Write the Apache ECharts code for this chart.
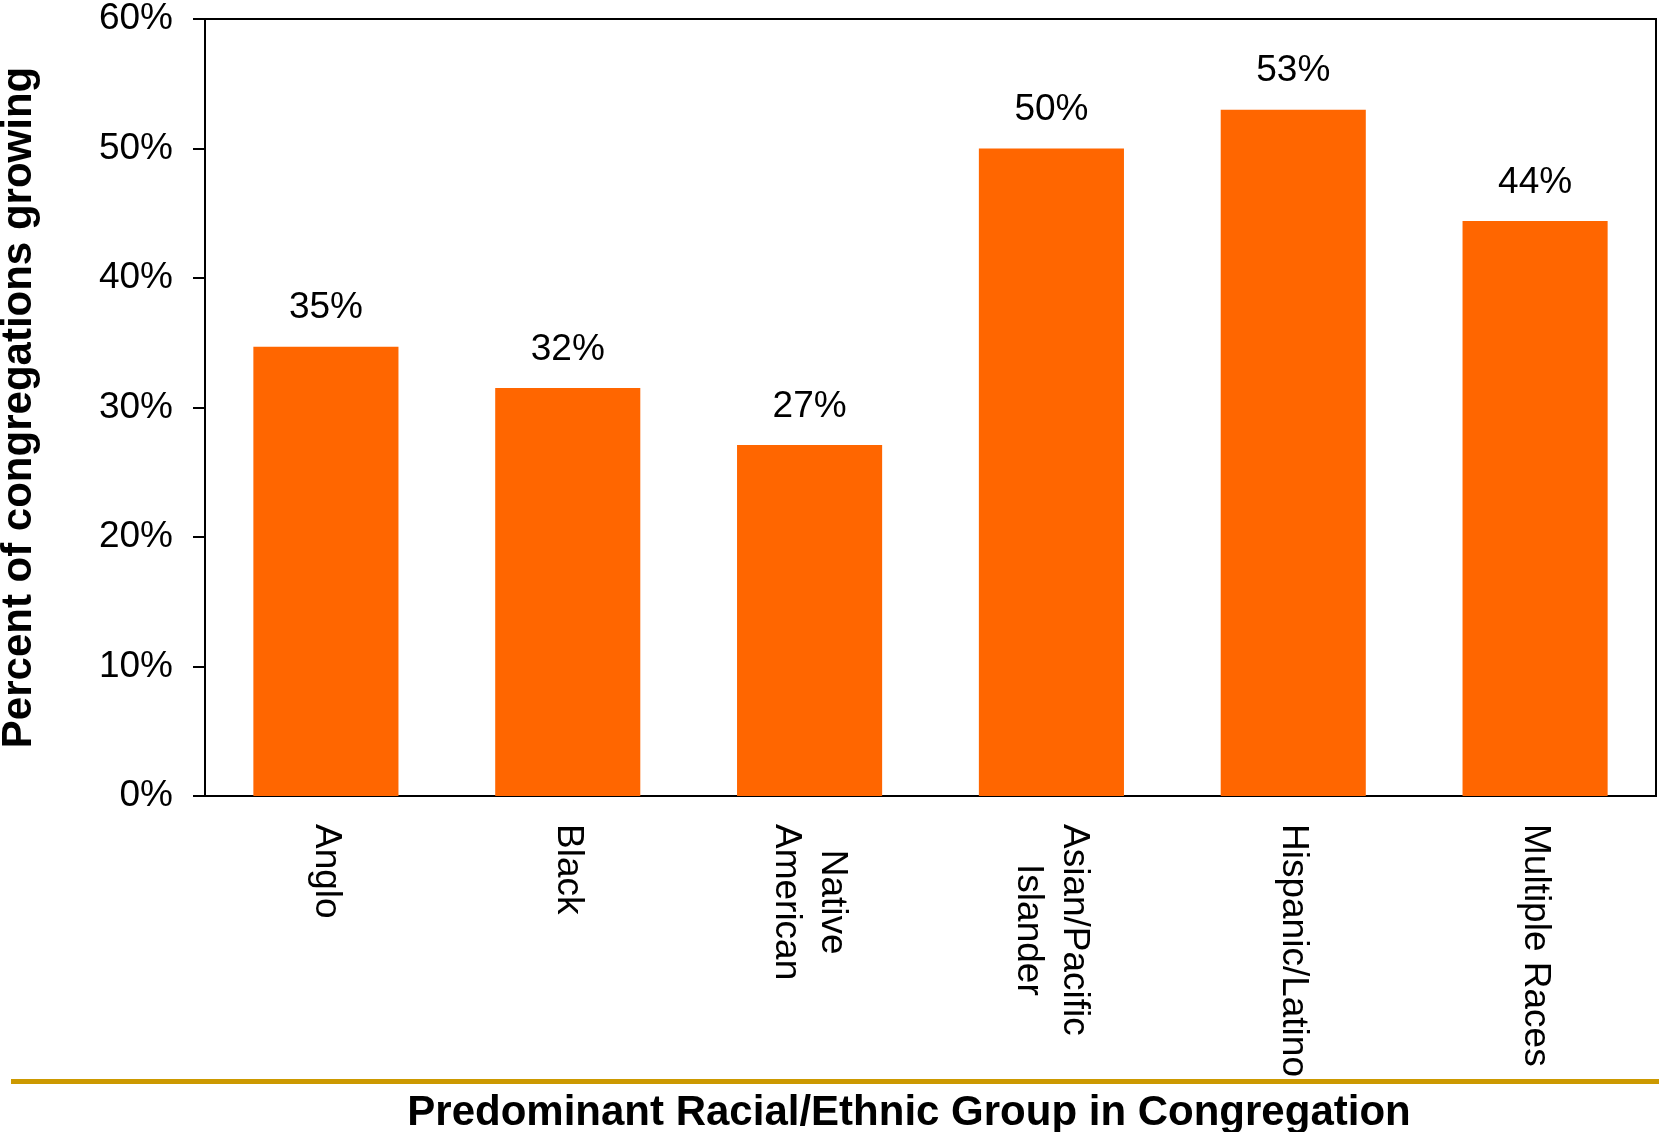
<!DOCTYPE html>
<html>
<head>
<meta charset="utf-8">
<script src="https://cdn.jsdelivr.net/npm/echarts@6/dist/echarts.min.js"></script>
<style>
  html, body { margin: 0; padding: 0; background: #fff; }
  #chart { width: 1659px; height: 1132px; }
</style>
</head>
<body>
<div id="chart"></div>
<script>
// chart data
var groups = ['Anglo', 'Black', 'Native\nAmerican', 'Asian/Pacific\nIslander', 'Hispanic/Latino', 'Multiple Races'];
var pctGrowing = [34.7, 31.5, 27.1, 50.0, 53.0, 44.4];
var yTicks = [0, 10, 20, 30, 40, 50, 60];

var FONT = '"Liberation Sans", Arial, sans-serif';

var chart = echarts.init(document.getElementById('chart'));

chart.setOption({
  animation: false,
  backgroundColor: '#fff',
  title: {
    text: 'Predominant Racial/Ethnic Group in Congregation',
    left: 904,
    top: 1087,
    textAlign: 'center',
    textStyle: { fontFamily: FONT, fontSize: 42, fontWeight: 'bold', color: '#000' }
  },
  grid: {
    left: 205, top: 19, right: 3, bottom: 336,
    outerBoundsMode: 'none',
    containLabel: false,
    show: true, borderColor: '#000', borderWidth: 2
  },
  xAxis: {
    type: 'category',
    data: groups,
    axisLine: { lineStyle: { color: '#000', width: 2 } },
    axisTick: { length: 12, lineStyle: { color: '#666', width: 2 } },
    axisLabel: {
      interval: 0,
      rotate: -90,
      margin: 28,
      fontFamily: FONT,
      fontSize: 37,
      lineHeight: 46,
      color: '#000',
      formatter: function (v) {
        return v.split('\n').map(function (s) { return '{c|' + s + '}'; }).join('\n');
      },
      rich: { c: { align: 'center', fontFamily: FONT, fontSize: 37, lineHeight: 46, color: '#000' } }
    }
  },
  yAxis: {
    type: 'value',
    min: yTicks[0],
    max: yTicks[yTicks.length - 1],
    interval: 10,
    name: 'Percent of congregations growing',
    nameLocation: 'middle',
    nameGap: 165,
    nameTextStyle: { fontFamily: FONT, fontSize: 42, fontWeight: 'bold', color: '#000' },
    axisLine: { show: true, lineStyle: { color: '#000', width: 2 } },
    axisTick: { show: true, length: 12, lineStyle: { color: '#000', width: 2 } },
    splitLine: { show: false },
    axisLabel: {
      margin: 32,
      fontFamily: FONT,
      fontSize: 37,
      color: '#000',
      formatter: '{value}%'
    }
  },
  series: [{
    type: 'bar',
    data: pctGrowing,
    barCategoryGap: '40%',
    itemStyle: { color: '#FF6600' },
    label: {
      show: true,
      position: 'top',
      distance: 20,
      fontFamily: FONT,
      fontSize: 37,
      color: '#000',
      formatter: function (p) { return Math.round(p.value) + '%'; }
    }
  }],
  graphic: [{
    type: 'rect',
    shape: { x: 11, y: 1079, width: 1648, height: 5 },
    style: { fill: '#CC9900' }
  }]
});
</script>
</body>
</html>
